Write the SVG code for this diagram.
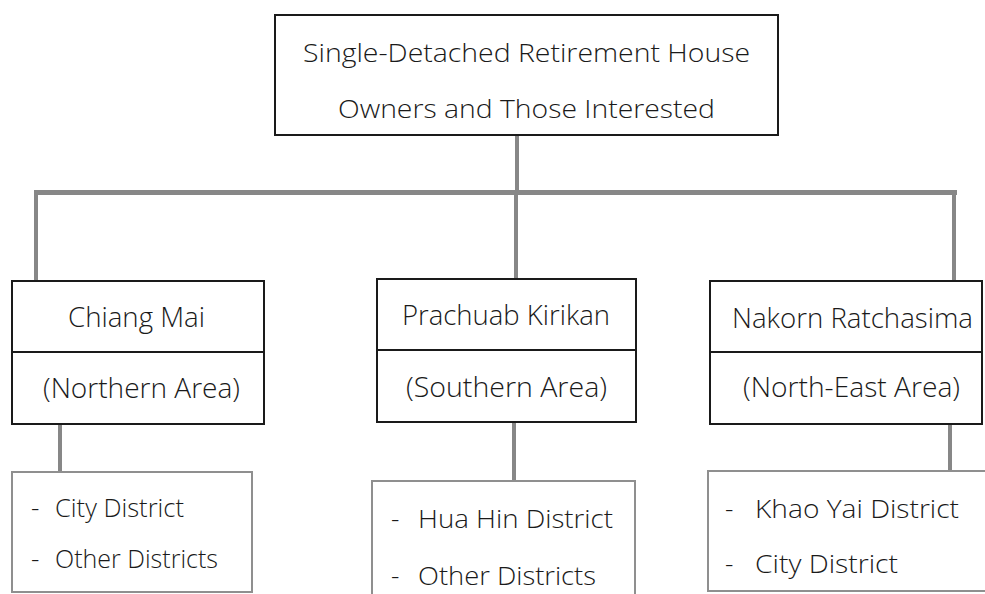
<svg xmlns="http://www.w3.org/2000/svg" width="985" height="594" viewBox="0 0 985 594">
  <style>
    .bg { fill: #ffffff; }
    .box { fill: #ffffff; stroke: #1a1a1a; stroke-width: 2; }
    .sub { fill: #ffffff; stroke: #8f8f8f; stroke-width: 2; }
    .div { stroke: #1a1a1a; stroke-width: 2; }
    .link { stroke: #878787; stroke-width: 4; fill: none; }
    .bar { stroke: #878787; stroke-width: 5; fill: none; }
    text { font-family: "Open Sans", "Noto Sans", sans-serif; font-size: 26px; font-weight: 300; fill: #1a1a1a; }
    .big { font-size: 27px; }
  </style>

  <rect class="bg" x="0" y="0" width="985" height="594"/>

  <!-- connectors -->
  <g id="connectors">
    <line class="link" x1="517" y1="135" x2="517" y2="191"/>
    <line class="bar" x1="34" y1="192.5" x2="957" y2="192.5"/>
    <line class="link" x1="36" y1="193" x2="36" y2="281"/>
    <line class="link" x1="516" y1="193" x2="516" y2="279"/>
    <line class="link" x1="954" y1="193" x2="954" y2="281"/>
    <line class="link" x1="60" y1="424" x2="60" y2="472"/>
    <line class="link" x1="514" y1="422" x2="514" y2="481"/>
    <line class="link" x1="950" y1="424" x2="950" y2="471"/>
  </g>

  <!-- root -->
  <g id="root">
    <rect class="box" x="275" y="15" width="503" height="120"/>
    <text x="303" y="62" textLength="447" lengthAdjust="spacingAndGlyphs">Single-Detached Retirement House</text>
    <text x="338" y="118" textLength="377" lengthAdjust="spacingAndGlyphs">Owners and Those Interested</text>
  </g>

  <!-- Chiang Mai -->
  <g id="chiang-mai">
    <rect class="box" x="12" y="281" width="252" height="143"/>
    <line class="div" x1="12" y1="352" x2="264" y2="352"/>
    <text class="big" x="68" y="327" textLength="137" lengthAdjust="spacingAndGlyphs">Chiang Mai</text>
    <text class="big" x="43" y="398" textLength="197" lengthAdjust="spacingAndGlyphs">(Northern Area)</text>
  </g>

  <!-- Prachuab Kirikan -->
  <g id="prachuab-kirikan">
    <rect class="box" x="377" y="279" width="259" height="143"/>
    <line class="div" x1="377" y1="350" x2="636" y2="350"/>
    <text class="big" x="402" y="325" textLength="208" lengthAdjust="spacingAndGlyphs">Prachuab Kirikan</text>
    <text class="big" x="406" y="397" textLength="201" lengthAdjust="spacingAndGlyphs">(Southern Area)</text>
  </g>

  <!-- Nakorn Ratchasima -->
  <g id="nakorn-ratchasima">
    <rect class="box" x="710" y="281" width="272" height="143"/>
    <line class="div" x1="710" y1="352" x2="982" y2="352"/>
    <text class="big" x="732" y="328" textLength="241" lengthAdjust="spacingAndGlyphs">Nakorn Ratchasima</text>
    <text class="big" x="743" y="397" textLength="217" lengthAdjust="spacingAndGlyphs">(North-East Area)</text>
  </g>

  <!-- districts -->
  <g id="chiang-mai-districts">
    <rect class="sub" x="12" y="472" width="240" height="120"/>
    <text x="31" y="517">-</text>
    <text x="55" y="517" textLength="129" lengthAdjust="spacingAndGlyphs">City District</text>
    <text x="31" y="568">-</text>
    <text x="55" y="568" textLength="163" lengthAdjust="spacingAndGlyphs">Other Districts</text>
  </g>

  <g id="prachuab-districts">
    <rect class="sub" x="372" y="481" width="263" height="120"/>
    <text x="391" y="528">-</text>
    <text x="418" y="528" textLength="195" lengthAdjust="spacingAndGlyphs">Hua Hin District</text>
    <text x="391" y="585">-</text>
    <text x="418" y="585" textLength="178" lengthAdjust="spacingAndGlyphs">Other Districts</text>
  </g>

  <g id="nakorn-districts">
    <rect class="sub" x="708" y="471" width="280" height="120"/>
    <text x="725" y="518">-</text>
    <text x="755" y="518" textLength="204" lengthAdjust="spacingAndGlyphs">Khao Yai District</text>
    <text x="725" y="573">-</text>
    <text x="755" y="573" textLength="143" lengthAdjust="spacingAndGlyphs">City District</text>
  </g>
</svg>
